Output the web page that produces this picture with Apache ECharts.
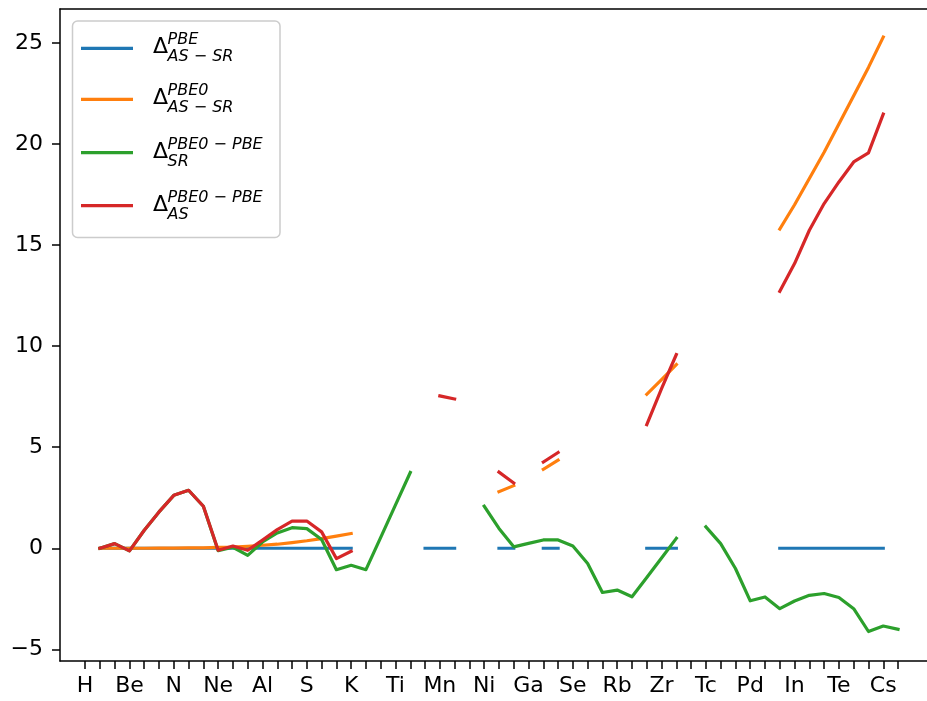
<!DOCTYPE html>
<html><head><meta charset="utf-8">
<script src="https://cdn.jsdelivr.net/npm/echarts@6/dist/echarts.min.js"></script>
<style>html,body{margin:0;padding:0;background:#fff}#c{width:927px;height:701px}</style>
</head><body><div id="c"></div>
<script>
// Elements H..Ba (index 0..55)
const elements = ['H','He','Li','Be','B','C','N','O','F','Ne','Na','Mg','Al','Si','P','S','Cl','Ar','K','Ca','Sc','Ti','V','Cr','Mn','Fe','Co','Ni','Cu','Zn','Ga','Ge','As','Se','Br','Kr','Rb','Sr','Y','Zr','Nb','Mo','Tc','Ru','Rh','Pd','Ag','Cd','In','Sn','Sb','Te','I','Xe','Cs','Ba'];
const tickIdx = Array.from({length: 56}, (_, i) => i);
const labelIdx = [0,3,6,9,12,15,18,21,24,27,30,33,36,39,42,45,48,51,54];
const yTicks = [-5,0,5,10,15,20,25];
const N = null;

// Δ_AS-SR^PBE
const pbeAsSr = [N,0,0,0,0,0,0,0,0,0,0,0,0,0,0,0,0,0,0, N,N,N,N, 0,0,0, N,N, 0,0, N, 0,0, N,N,N,N,N, 0,0,0, N,N,N,N,N,N, 0,0,0,0,0,0,0,0, N];
// Δ_AS-SR^PBE0
const pbe0AsSr = [N,0,0,0,0,0.01,0.01,0.02,0.02,0.04,0.06,0.1,0.15,0.2,0.28,0.37,0.48,0.6,0.73, N,N,N,N,N,N,N,N,N, 2.8,3.1, N, 3.91,4.36, N,N,N,N,N, 7.62,8.35,9.09, N,N,N,N,N,N, 15.8,17.0,18.3,19.6,21.0,22.4,23.8,25.3, N];
// Δ_SR^PBE0-PBE
const pbe0PbeSr = [N,0,0.23,-0.13,0.89,1.8,2.62,2.87,2.08,-0.12,0.05,-0.35,0.31,0.76,1.02,0.97,0.43,-1.06,-0.84,-1.06,0.54,2.15,3.75, N,N,N,N, 2.08,0.98,0.07,0.24,0.41,0.41,0.11,-0.75,-2.19,-2.07,-2.4,-1.45,-0.48,0.49, N, 1.06,0.23,-1.0,-2.6,-2.41,-2.99,-2.61,-2.33,-2.24,-2.44,-2.99,-4.12,-3.85,-4.01];
// Δ_AS^PBE0-PBE
const pbe0PbeAs = [N,0,0.23,-0.13,0.89,1.8,2.62,2.87,2.08,-0.1,0.11,-0.1,0.4,0.92,1.34,1.35,0.81,-0.51,-0.15, N,N,N,N,N, 7.54,7.39, N,N, 3.77,3.23, N, 4.27,4.74, N,N,N,N,N, 6.12,7.9,9.59, N,N,N,N,N,N, 12.72,14.09,15.74,17.06,18.13,19.12,19.57,21.49, N];

const colors = ['#1f77b4','#ff7f0e','#2ca02c','#d62728'];
const legendSup = ['PBE','PBE0','PBE0 − PBE','PBE0 − PBE'];
const legendSub = ['AS − SR','AS − SR','SR','AS'];
const seriesData = [pbeAsSr, pbe0AsSr, pbe0PbeSr, pbe0PbeAs];

const legendLineY = [48.3, 99.3, 152.7, 205.7];
const graphics = [{
  type:'rect', z:100, shape:{x:72.5, y:21, width:207.5, height:216.5, r:5},
  style:{fill:'rgba(255,255,255,0.8)', stroke:'#cccccc', lineWidth:1.5}
}];
legendLineY.forEach((ly, i) => {
  graphics.push({type:'line', z:101, shape:{x1:81, y1:ly, x2:133, y2:ly}, style:{stroke:colors[i], lineWidth:3.2}});
  graphics.push({type:'text', z:101, x:153, y:ly-0.9, style:{text:'Δ', font:'22px "DejaVu Sans"', fill:'#000', align:'left', verticalAlign:'middle'}});
  graphics.push({type:'text', z:101, x:167.5, y:ly-8.1, style:{text:legendSup[i], font:'italic 16px "DejaVu Sans"', fill:'#000', align:'left', verticalAlign:'middle'}});
  graphics.push({type:'text', z:101, x:167.5, y:ly+8.9, style:{text:legendSub[i], font:'italic 16px "DejaVu Sans"', fill:'#000', align:'left', verticalAlign:'middle'}});
});

const xMin = -1.7, xMax = 56.96;
const chart = echarts.init(document.getElementById('c'), null, {renderer:'canvas'});
chart.setOption({
  animation:false,
  backgroundColor:'#fff',
  grid:{left:60, right:0, top:9, bottom:40, show:false, containLabel:false},
  xAxis:[{
    type:'value', min:xMin, max:xMax, position:'bottom',
    axisLine:{show:true, onZero:false, lineStyle:{color:'#000', width:1.5}},
    axisTick:{show:true, length:8, customValues:tickIdx, lineStyle:{color:'#000', width:1.5}},
    axisLabel:{show:true, customValues:labelIdx, margin:14, color:'#000', fontSize:22, fontFamily:'DejaVu Sans',
      formatter:v => elements[Math.round(v)]},
    splitLine:{show:false}
  },{
    type:'value', min:xMin, max:xMax, position:'top',
    axisLine:{show:true, onZero:false, lineStyle:{color:'#000', width:1.5}},
    axisTick:{show:false}, axisLabel:{show:false}, splitLine:{show:false}
  }],
  yAxis:{
    type:'value', min:-5.58, max:26.69,
    axisLine:{show:true, onZero:false, lineStyle:{color:'#000', width:1.5}},
    axisTick:{show:true, length:8, customValues:yTicks, lineStyle:{color:'#000', width:1.5}},
    axisLabel:{show:true, customValues:yTicks, margin:17, color:'#000', fontSize:22, fontFamily:'DejaVu Sans',
      formatter:v => (v < 0 ? '−' + Math.abs(v) : String(v))},
    splitLine:{show:false}
  },
  series: seriesData.map((arr, k) => ({
    type:'line', name:legendSup[k], showSymbol:false, symbol:'none', connectNulls:false,
    xAxisIndex:0,
    data: arr.map((v, i) => [tickIdx[i], v]),
    lineStyle:{color:colors[k], width:3.2, cap:'square', join:'round'},
    itemStyle:{color:colors[k]}, z:2+k
  })),
  graphic: graphics
});
</script></body></html>
